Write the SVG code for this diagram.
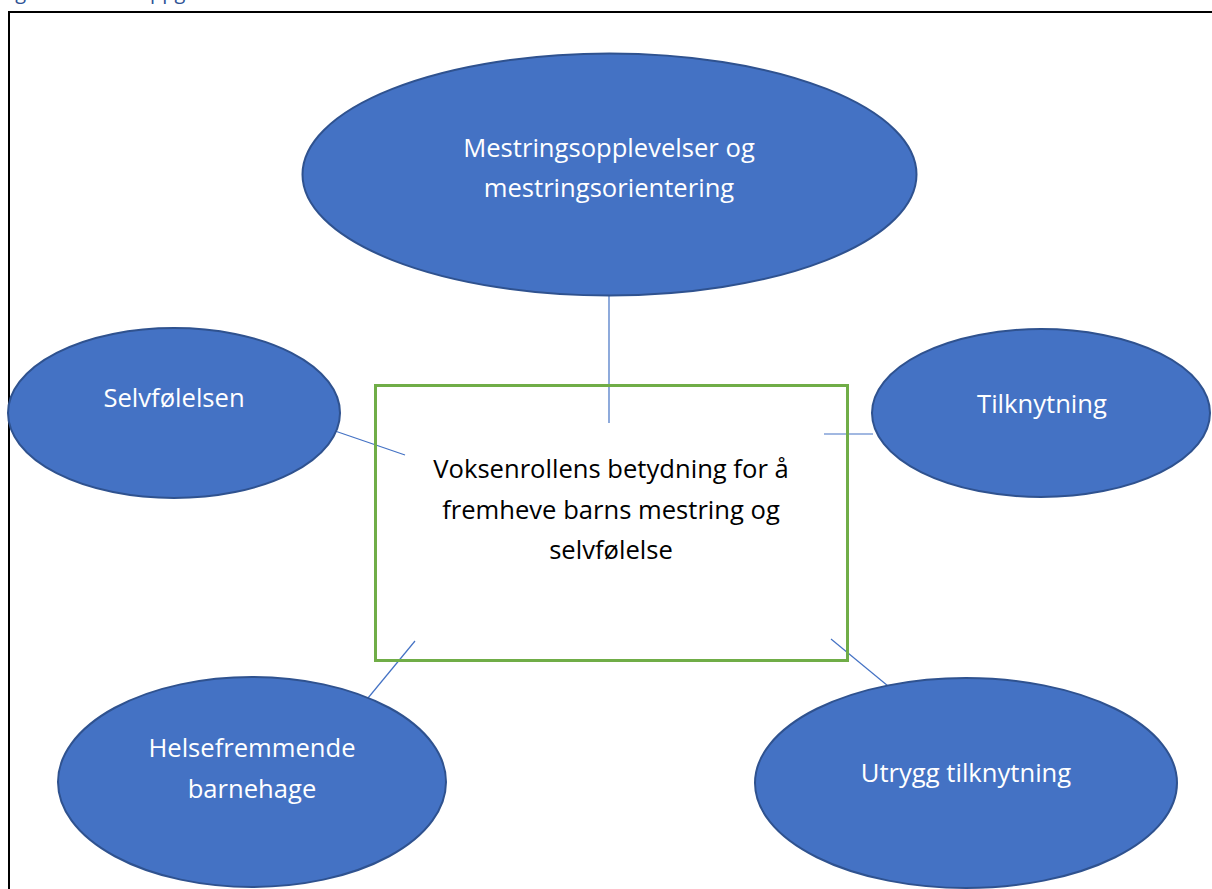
<svg xmlns="http://www.w3.org/2000/svg" width="1212" height="889" viewBox="0 0 1212 889">
<style>
.node ellipse{fill:#4472C4;stroke:#2F528F;stroke-width:2}
.lbl{font-family:"Open Sans","Liberation Sans",sans-serif;font-size:25.6px;fill:#FFFFFF;text-anchor:middle}
.ctr{font-family:"Open Sans","Liberation Sans",sans-serif;font-size:25.6px;fill:#000000;text-anchor:middle}
.conn line{stroke:#4472C4;stroke-width:1.2}
</style>
<rect width="1212" height="889" fill="#FFFFFF"/>
<text x="0" y="-1" font-family="Open Sans, Liberation Sans, sans-serif" font-size="20" fill="#2F5496">Figur 1 <tspan x="138">oppgave</tspan></text>
<rect id="frame" x="9" y="12" width="1230" height="900" fill="none" stroke="#000000" stroke-width="2"/>
<g id="connectors" class="conn">
<line x1="609" y1="296" x2="609" y2="423"/>
<line x1="335" y1="431" x2="405" y2="455"/>
<line x1="824" y1="434" x2="873" y2="434"/>
<line x1="415" y1="641" x2="368" y2="698"/>
<line x1="831" y1="639" x2="888" y2="686"/>
</g>
<g id="center">
<rect x="375.5" y="385.5" width="472" height="275" fill="none" stroke="#70AD47" stroke-width="3"/>
<text class="ctr" x="611" y="478">Voksenrollens betydning for å</text>
<text class="ctr" x="611" y="519">fremheve barns mestring og</text>
<text class="ctr" x="611" y="559">selvfølelse</text>
</g>
<g id="mestring" class="node">
<ellipse cx="609.5" cy="174.5" rx="307" ry="121"/>
<text class="lbl" x="609" y="157">Mestringsopplevelser og</text>
<text class="lbl" x="609" y="197">mestringsorientering</text>
</g>
<g id="selvfolelsen" class="node">
<ellipse cx="174" cy="413" rx="166" ry="85"/>
<text class="lbl" x="174" y="407">Selvfølelsen</text>
</g>
<g id="tilknytning" class="node">
<ellipse cx="1041" cy="413" rx="169" ry="84"/>
<text class="lbl" x="1042" y="413">Tilknytning</text>
</g>
<g id="helsefremmende" class="node">
<ellipse cx="252" cy="782" rx="194" ry="105"/>
<text class="lbl" x="252" y="757">Helsefremmende</text>
<text class="lbl" x="252" y="798">barnehage</text>
</g>
<g id="utrygg" class="node">
<ellipse cx="966" cy="783" rx="211" ry="105"/>
<text class="lbl" x="966" y="782">Utrygg tilknytning</text>
</g>
</svg>
